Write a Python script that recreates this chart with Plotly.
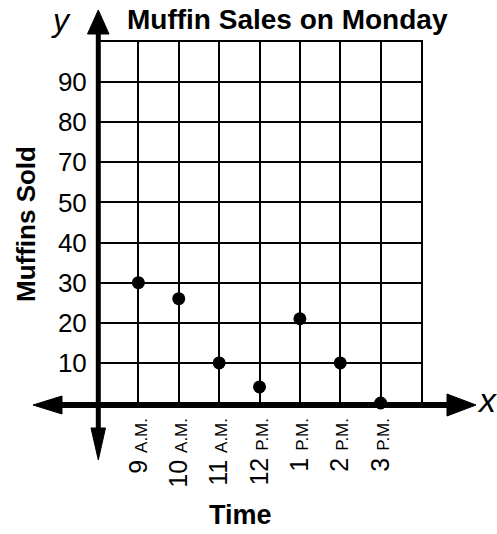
import plotly.graph_objects as go

# ---- data ----
hours = ["9", "10", "11", "12", "1", "2", "3"]
periods = ["A.M.", "A.M.", "A.M.", "P.M.", "P.M.", "P.M.", "P.M."]
muffins_sold = [30, 26, 10, 4, 21, 10, 0]
y_tick_vals = [10, 20, 30, 40, 50, 60, 70, 80]
y_tick_text = ["10", "20", "30", "40", "50", "70", "80", "90"]  # as printed in the source
title_text = "Muffin Sales on Monday"
x_title = "Time"
y_title = "Muffins Sold"

categories = [f"{h} {p}" for h, p in zip(hours, periods)]
tick_text = [f"{h} <span style='font-size:17px'>{p}</span>" for h, p in zip(hours, periods)]

W, H = 497, 534
L, R, T, B = 98, 76, 42, 128
PW, PH = W - L - R, H - T - B
FONT = "Liberation Sans, Arial, Helvetica, sans-serif"


def px(x):
    return (x - L) / PW


def py(y):
    return (H - B - y) / PH


fig = go.Figure()
fig.add_trace(go.Scatter(
    x=categories, y=muffins_sold, mode="markers",
    marker=dict(color="black", size=13), cliponaxis=False, showlegend=False,
    hoverinfo="skip",
))

shapes = []
# thick axis lines
shapes.append(dict(type="line", xref="paper", yref="paper",
                   x0=px(45), x1=px(455), y0=py(405), y1=py(405),
                   line=dict(color="black", width=6), layer="above"))
shapes.append(dict(type="line", xref="paper", yref="paper",
                   x0=px(98.3), x1=px(98.3), y0=py(25), y1=py(440),
                   line=dict(color="black", width=5), layer="above"))


def tri(pts):
    d = "M " + " L ".join(f"{px(a)},{py(b)}" for a, b in pts) + " Z"
    return dict(type="path", xref="paper", yref="paper", path=d,
                fillcolor="black", line=dict(color="black", width=1), layer="above")


shapes.append(tri([(98.3, 10), (87.5, 34), (109, 34)]))      # up
shapes.append(tri([(98.3, 460), (91, 428), (105.5, 428)]))   # down
shapes.append(tri([(33, 405), (62, 396), (62, 414)]))        # left
shapes.append(tri([(476, 405), (447, 394), (447, 416)]))     # right

annotations = [
    dict(text=f"<b>{title_text}</b>", x=px(287), y=py(19), xref="paper", yref="paper",
         showarrow=False, xanchor="center", yanchor="middle",
         font=dict(family=FONT, size=28, color="black")),
    dict(text=f"<b>{x_title}</b>", x=px(240), y=py(515), xref="paper", yref="paper",
         showarrow=False, xanchor="center", yanchor="middle",
         font=dict(family=FONT, size=27, color="black")),
    dict(text=f"<b>{y_title}</b>", x=px(26), y=py(224), xref="paper", yref="paper",
         showarrow=False, xanchor="center", yanchor="middle", textangle=-90,
         font=dict(family=FONT, size=26, color="black")),
    dict(text="<i>y</i>", x=px(61), y=py(1), xref="paper", yref="paper",
         showarrow=False, xanchor="center", yanchor="top", borderpad=0,
         font=dict(family=FONT, size=32, color="black")),
    dict(text="<i>x</i>", x=px(487), y=py(400), xref="paper", yref="paper",
         showarrow=False, xanchor="center", yanchor="middle",
         font=dict(family=FONT, size=34, color="black")),
]

fig.update_layout(
    width=W, height=H, autosize=False,
    margin=dict(l=L, r=R, t=T, b=B, pad=0),
    paper_bgcolor="white", plot_bgcolor="white",
    shapes=shapes, annotations=annotations,
    font=dict(family=FONT, color="black"),
    xaxis=dict(
        type="category", categoryorder="array", categoryarray=categories,
        range=[-1, 7], tickmode="array", tickvals=categories, ticktext=tick_text,
        tickangle=-90, tickfont=dict(family=FONT, size=25, color="black"),
        ticks="", ticklabelstandoff=0,
        showgrid=True, gridcolor="black", gridwidth=2,
        showline=True, mirror=True, linecolor="black", linewidth=2,
        zeroline=False, fixedrange=True,
    ),
    yaxis=dict(
        range=[-0.75, 90], tickmode="array", tickvals=y_tick_vals, ticktext=y_tick_text,
        tickfont=dict(family=FONT, size=26, color="black"),
        ticks="", ticklabelstandoff=4,
        showgrid=True, gridcolor="black", gridwidth=2,
        showline=True, mirror=True, linecolor="black", linewidth=2,
        zeroline=False, fixedrange=True,
    ),
)

fig.write_html(
    "out.html",
    config={"displayModeBar": False},
    post_script="document.body.style.margin='0px';document.body.style.overflow='hidden';",
)
